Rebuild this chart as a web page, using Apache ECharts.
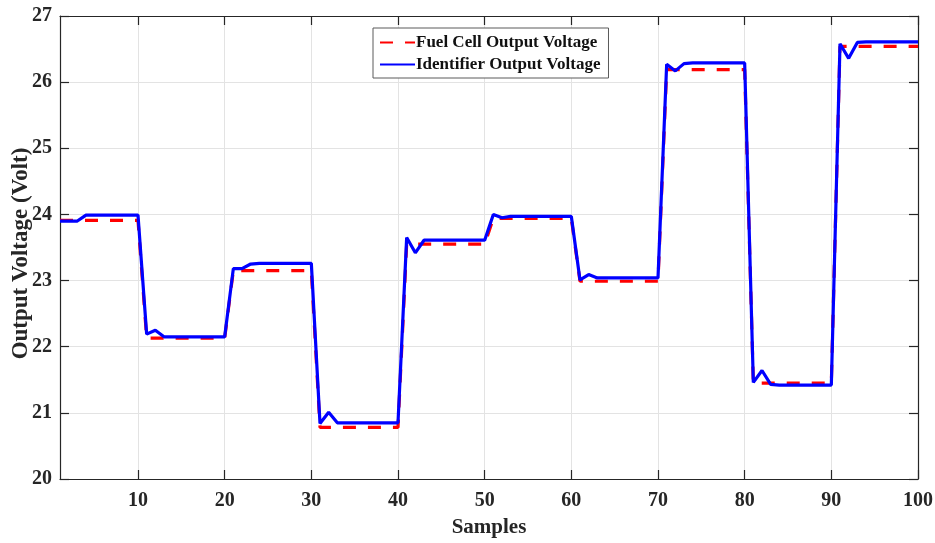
<!DOCTYPE html>
<html>
<head>
<meta charset="utf-8">
<title>Output Voltage</title>
<script src="https://cdn.jsdelivr.net/npm/echarts@6/dist/echarts.min.js"></script>
<style>
  html, body { margin: 0; padding: 0; background: #ffffff; }
  #chart { width: 935px; height: 543px; }
</style>
</head>
<body>
<div id="chart"></div>
<script>
// Sample range and tick values
const xMin = 1;
const xMax = 100;
const xTicks = [10, 20, 30, 40, 50, 60, 70, 80, 90, 100];
const yMin = 20;
const yMax = 27;

// Fuel cell output voltage, one value per sample (1..100)
const fuelCellVoltage = [
  23.91, 23.91, 23.91, 23.91, 23.91, 23.91, 23.91, 23.91, 23.91, 23.91,
  22.13, 22.13, 22.13, 22.13, 22.13, 22.13, 22.13, 22.13, 22.13, 22.13,
  23.15, 23.15, 23.15, 23.15, 23.15, 23.15, 23.15, 23.15, 23.15, 23.15,
  20.78, 20.78, 20.78, 20.78, 20.78, 20.78, 20.78, 20.78, 20.78, 20.78,
  23.55, 23.55, 23.55, 23.55, 23.55, 23.55, 23.55, 23.55, 23.55, 23.55,
  23.94, 23.94, 23.94, 23.94, 23.94, 23.94, 23.94, 23.94, 23.94, 23.94,
  22.99, 22.99, 22.99, 22.99, 22.99, 22.99, 22.99, 22.99, 22.99, 22.99,
  26.19, 26.19, 26.19, 26.19, 26.19, 26.19, 26.19, 26.19, 26.19, 26.19,
  21.45, 21.45, 21.45, 21.45, 21.45, 21.45, 21.45, 21.45, 21.45, 21.45,
  26.54, 26.54, 26.54, 26.54, 26.54, 26.54, 26.54, 26.54, 26.54, 26.54
];

// Identifier output voltage, one value per sample (1..100)
const identifierVoltage = [
  23.90, 23.90, 23.90, 23.99, 23.99, 23.99, 23.99, 23.99, 23.99, 23.99,
  22.19, 22.25, 22.15, 22.15, 22.15, 22.15, 22.15, 22.15, 22.15, 22.15,
  23.18, 23.18, 23.25, 23.26, 23.26, 23.26, 23.26, 23.26, 23.26, 23.26,
  20.84, 21.01, 20.85, 20.85, 20.85, 20.85, 20.85, 20.85, 20.85, 20.85,
  23.65, 23.42, 23.61, 23.61, 23.61, 23.61, 23.61, 23.61, 23.61, 23.61,
  24.00, 23.95, 23.97, 23.97, 23.97, 23.97, 23.97, 23.97, 23.97, 23.97,
  23.01, 23.09, 23.04, 23.04, 23.04, 23.04, 23.04, 23.04, 23.04, 23.04,
  26.27, 26.17, 26.28, 26.29, 26.29, 26.29, 26.29, 26.29, 26.29, 26.29,
  21.46, 21.64, 21.43, 21.42, 21.42, 21.42, 21.42, 21.42, 21.42, 21.42,
  26.58, 26.36, 26.60, 26.61, 26.61, 26.61, 26.61, 26.61, 26.61, 26.61
];

const toPairs = (arr) => arr.map((v, i) => [i + 1, v]);

const fontFamily = '"Liberation Serif", "Times New Roman", serif';
const inkColor = '#262626';
const gridColor = '#e3e3e3';

const chart = echarts.init(document.getElementById('chart'), null, { renderer: 'canvas' });

const baseX = {
  type: 'value',
  min: xMin,
  max: xMax,
  axisLine: { show: true, onZero: false, lineStyle: { color: inkColor, width: 1.2 } },
  axisTick: { show: true, inside: true, length: 9, customValues: xTicks, lineStyle: { color: inkColor, width: 1.2 } },
  splitLine: { show: false }
};

const baseY = {
  type: 'value',
  min: yMin,
  max: yMax,
  interval: 1,
  axisLine: { show: true, onZero: false, lineStyle: { color: inkColor, width: 1.2 } },
  axisTick: { show: true, inside: true, length: 9, lineStyle: { color: inkColor, width: 1.2 } },
  splitLine: { show: false }
};

chart.setOption({
  animation: false,
  backgroundColor: '#ffffff',
  grid: { left: 60, right: 17, top: 16, bottom: 64, containLabel: false, outerBoundsMode: 'none' },
  legend: {
    left: 373,
    top: 28,
    orient: 'vertical',
    itemWidth: 35,
    itemHeight: 10,
    itemGap: 5,
    padding: [6, 8, 5, 6],
    backgroundColor: '#ffffff',
    borderColor: '#5a5a5a',
    borderWidth: 1,
    itemStyle: { opacity: 0, borderWidth: 0 },
    textStyle: { fontFamily: fontFamily, fontWeight: 'bold', fontSize: 17, color: '#111111', padding: [0, 0, 0, -4] },
    data: ['Fuel Cell Output Voltage', 'Identifier Output Voltage']
  },
  xAxis: [
    Object.assign({}, baseX, {
      position: 'bottom',
      name: 'Samples',
      nameLocation: 'middle',
      nameGap: 38,
      nameMoveOverlap: false,
      nameTextStyle: { fontFamily: fontFamily, fontWeight: 'bold', fontSize: 21, color: inkColor },
      axisLabel: { show: true, customValues: xTicks, margin: 12, fontFamily: fontFamily, fontWeight: 'bold', fontSize: 20, color: inkColor },
      splitLine: { show: true, lineStyle: { color: gridColor, width: 1 } }
    }),
    Object.assign({}, baseX, { position: 'top', axisLabel: { show: false } })
  ],
  yAxis: [
    Object.assign({}, baseY, {
      position: 'left',
      name: 'Output Voltage (Volt)',
      nameLocation: 'middle',
      nameGap: 27,
      nameMoveOverlap: false,
      nameTextStyle: { fontFamily: fontFamily, fontWeight: 'bold', fontSize: 23, color: inkColor, padding: [0, 12, 0, 0] },
      axisLabel: { show: true, margin: 8, fontFamily: fontFamily, fontWeight: 'bold', fontSize: 20, color: inkColor },
      splitLine: { show: true, lineStyle: { color: gridColor, width: 1 } }
    }),
    Object.assign({}, baseY, { position: 'right', axisLabel: { show: false } })
  ],
  series: [
    {
      name: 'Fuel Cell Output Voltage',
      type: 'line',
      xAxisIndex: 0,
      yAxisIndex: 0,
      showSymbol: false,
      symbol: 'none',
      data: toPairs(fuelCellVoltage),
      lineStyle: { color: '#ff0000', width: 3.2, type: [13, 12] },
      itemStyle: { color: '#ff0000' },
      z: 2
    },
    {
      name: 'Identifier Output Voltage',
      type: 'line',
      xAxisIndex: 0,
      yAxisIndex: 0,
      showSymbol: false,
      symbol: 'none',
      data: toPairs(identifierVoltage),
      lineStyle: { color: '#0000ff', width: 3.2 },
      itemStyle: { color: '#0000ff' },
      z: 3
    }
  ]
});
</script>
</body>
</html>
